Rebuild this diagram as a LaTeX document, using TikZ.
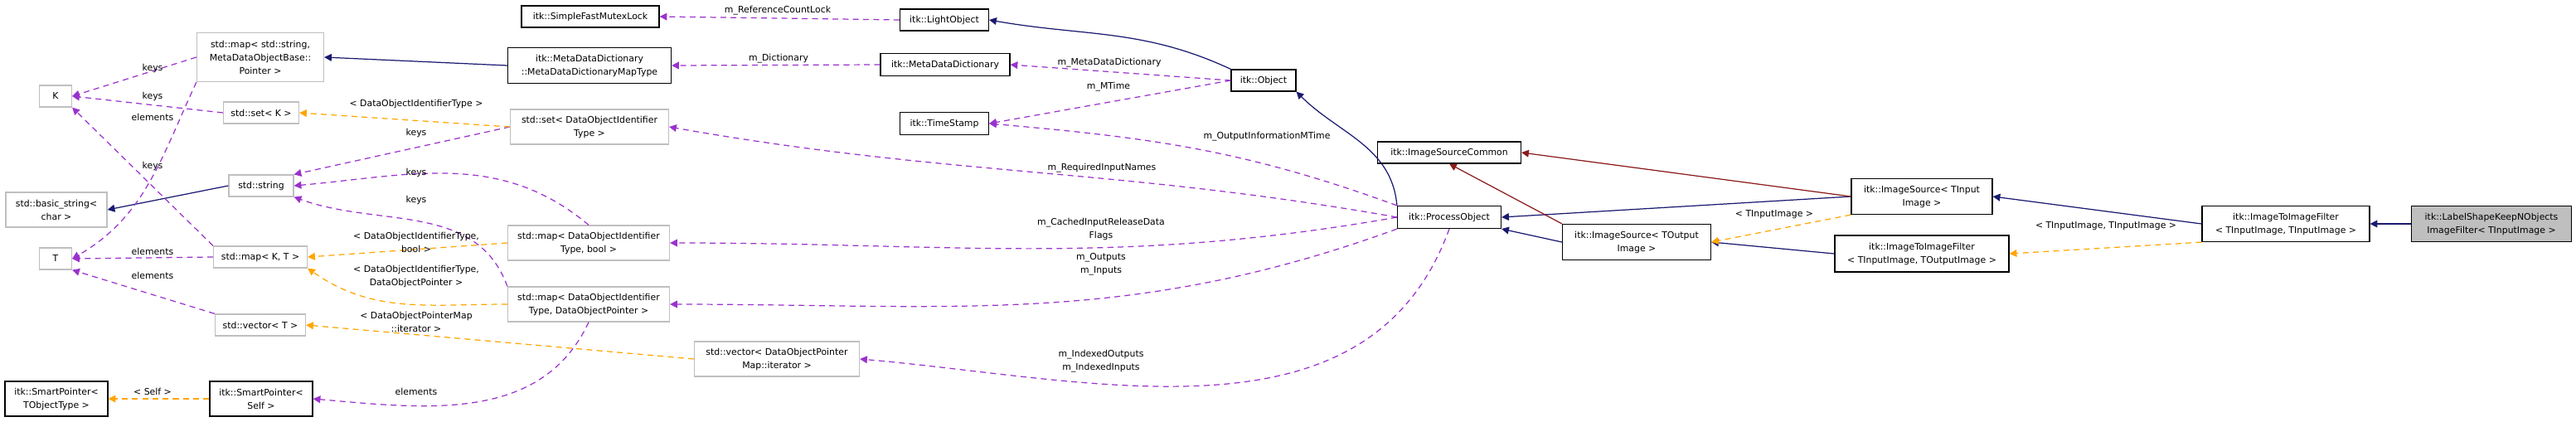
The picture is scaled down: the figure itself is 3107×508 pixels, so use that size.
\documentclass[tikz,border=0pt]{standalone}
\usepackage{fontspec}
\setmainfont{DejaVu Sans}
\usetikzlibrary{arrows.meta}

\definecolor{navyedge}{RGB}{25,25,112}
\definecolor{rededge}{RGB}{139,26,26}
\definecolor{purpleedge}{RGB}{154,50,205}
\definecolor{orangeedge}{RGB}{255,165,0}
\definecolor{stdgray}{RGB}{191,191,191}

\tikzset{
    cls/.style={draw=black, line width=0.7pt, fill=white, align=center, inner sep=1pt},
    stdcls/.style={draw=stdgray, line width=0.7pt, fill=white, align=center, inner sep=1pt},
    focus/.style={cls, fill=stdgray},
    inherit/.style={navyedge, line width=0.7pt, -{Triangle[length=5pt,width=5pt]}},
    protinherit/.style={rededge, line width=0.7pt, -{Triangle[length=5pt,width=5pt]}},
    usage/.style={purpleedge, line width=0.7pt, dash pattern=on 4pt off 3pt, -{Triangle[length=5pt,width=5pt]}},
    templ/.style={orangeedge, line width=0.7pt, dash pattern=on 4pt off 3pt, -{Triangle[length=5pt,width=5pt]}},
    lbl/.style={align=center, inner sep=0pt}
}

\begin{document}
\begin{tikzpicture}[x=0.02cm, y=-0.02cm, font=\fontsize{6.2}{9.1}\selectfont]

% Frame
\useasboundingbox (0,0) rectangle (3107,508);

% Standard library types (left)
\node[stdcls, minimum width=0.78cm, minimum height=0.52cm] (k) at (67,116) {K};
\node[stdcls, minimum width=0.78cm, minimum height=0.52cm] (t) at (67,312) {T};
\node[stdcls, minimum width=2.44cm, minimum height=0.84cm] (basicstr) at (68,253) {std::basic\_string<\\char >};
\node[stdcls, minimum width=3.06cm, minimum height=1.18cm] (mapmeta) at (314,69) {std::map< std::string,\\MetaDataObjectBase::\\Pointer >};
\node[stdcls, minimum width=1.82cm, minimum height=0.52cm] (setk) at (315,136) {std::set< K >};
\node[stdcls, minimum width=1.56cm, minimum height=0.52cm] (stdstr) at (315,224) {std::string};
\node[stdcls, minimum width=2.26cm, minimum height=0.52cm] (mapkt) at (314,310) {std::map< K, T >};
\node[stdcls, minimum width=2.18cm, minimum height=0.52cm] (vect) at (314,392) {std::vector< T >};

% Smart pointers
\node[cls, minimum width=2.48cm, minimum height=0.84cm] (spobj) at (68,481) {itk::SmartPointer<\\TObjectType >};
\node[cls, minimum width=2.48cm, minimum height=0.84cm] (spself) at (315,481) {itk::SmartPointer<\\Self >};

% Middle column
\node[cls, minimum width=3.32cm, minimum height=0.52cm] (mutex) at (712,20) {itk::SimpleFastMutexLock};
\node[cls, minimum width=3.94cm, minimum height=0.86cm] (maptype) at (711,79) {itk::MetaDataDictionary\\::MetaDataDictionaryMapType};
\node[stdcls, minimum width=3.82cm, minimum height=0.84cm] (setdoit) at (711,153) {std::set< DataObjectIdentifier\\Type >};
\node[stdcls, minimum width=3.90cm, minimum height=0.84cm] (mapbool) at (710,293) {std::map< DataObjectIdentifier\\Type, bool >};
\node[stdcls, minimum width=3.90cm, minimum height=0.84cm] (mapdop) at (710,367) {std::map< DataObjectIdentifier\\Type, DataObjectPointer >};
\node[stdcls, minimum width=3.98cm, minimum height=0.84cm] (vecit) at (937,433) {std::vector< DataObjectPointer\\Map::iterator >};

% ITK core objects
\node[cls, minimum width=2.14cm, minimum height=0.52cm] (light) at (1139,24) {itk::LightObject};
\node[cls, minimum width=3.12cm, minimum height=0.54cm] (dict) at (1140,78) {itk::MetaDataDictionary};
\node[cls, minimum width=2.14cm, minimum height=0.54cm] (stamp) at (1139,149) {itk::TimeStamp};
\node[cls, minimum width=1.56cm, minimum height=0.52cm] (object) at (1524,97) {itk::Object};
\node[cls, minimum width=3.46cm, minimum height=0.52cm] (common) at (1748,184) {itk::ImageSourceCommon};
\node[cls, minimum width=2.50cm, minimum height=0.54cm] (process) at (1748,262) {itk::ProcessObject};

% Filters
\node[cls, minimum width=3.58cm, minimum height=0.86cm] (srcout) at (1974,292) {itk::ImageSource< TOutput\\Image >};
\node[cls, minimum width=3.40cm, minimum height=0.86cm] (srcin) at (2318,237) {itk::ImageSource< TInput\\Image >};
\node[cls, minimum width=4.20cm, minimum height=0.88cm] (filtout) at (2318,306) {itk::ImageToImageFilter\\< TInputImage, TOutputImage >};
\node[cls, minimum width=4.04cm, minimum height=0.86cm] (filtin) at (2757,270) {itk::ImageToImageFilter\\< TInputImage, TInputImage >};
\node[focus, minimum width=3.86cm, minimum height=0.86cm] (keepn) at (3005,270) {itk::LabelShapeKeepNObjects\\ImageFilter< TInputImage >};

% Inheritance
\draw[inherit] (maptype.west) -- (mapmeta.east);
\draw[inherit] (stdstr.west) -- (basicstr.east);
\draw[inherit] (object.north west) to[out=155,in=-10] (light.east);
\draw[inherit] (process.north west) to[out=95,in=-45] (object.south east);
\draw[inherit] (srcin.west) -- (process.east);
\draw[inherit] (srcout.west) -- (process.south east);
\draw[inherit] (filtout.west) -- (srcout.east);
\draw[inherit] (filtin.west) -- (srcin.east);
\draw[inherit] (keepn.west) -- (filtin.east);
\draw[protinherit] (srcin.west) -- (common.east);
\draw[protinherit] (srcout.north west) -- (common.south);

% Members of itk objects
\draw[usage] (light.west) -- (mutex.east);
\draw[usage] (dict.west) -- (maptype.east);
\draw[usage] (object.west) -- (dict.east);
\draw[usage] (object.west) -- (stamp.east);
\draw[usage] (process.north west) to[out=160,in=-5] (stamp.east);
\draw[usage] (process.west) to[out=170,in=-10] (setdoit.east);
\draw[usage] (process.west) to[out=190,in=0] (mapbool.east);
\draw[usage] (process.south west) to[out=200,in=0] (mapdop.east);
\draw[usage] (process.south) to[out=-110,in=-5] (vecit.east);

\node[lbl] (l1) at (938,13) {m\_ReferenceCountLock};
\node[lbl] (l2) at (939,71) {m\_Dictionary};
\node[lbl] (l3) at (1338,76) {m\_MetaDataDictionary};
\node[lbl] (l4) at (1337,105) {m\_MTime};
\node[lbl] (l5) at (1528,165) {m\_OutputInformationMTime};
\node[lbl] (l6) at (1329,203) {m\_RequiredInputNames};
\node[lbl] (l7) at (1328,276) {m\_CachedInputReleaseData\\Flags};
\node[lbl] (l8) at (1328,319) {m\_Outputs\\m\_Inputs};
\node[lbl] (l9) at (1328,436) {m\_IndexedOutputs\\m\_IndexedInputs};

% Keys and elements of containers
\draw[usage] (mapmeta.west) -- (k.east);
\draw[usage] (setk.west) -- (k.east);
\draw[usage] (mapkt.north west) -- (k.south east);
\draw[usage] (mapmeta.south west) to[out=-115,in=30] (t.east);
\draw[usage] (mapkt.west) -- (t.east);
\draw[usage] (vect.north west) -- (t.south east);
\draw[usage] (setdoit.west) -- (stdstr.north east);
\draw[usage] (mapbool.north) to[out=140,in=5] (stdstr.east);
\draw[usage] (mapdop.north west) to[out=110,in=-20] (stdstr.south east);
\draw[usage] (mapdop.south) to[out=-115,in=-5] (spself.east);

\node[lbl] (k1) at (184,82) {keys};
\node[lbl] (k2) at (184,116) {keys};
\node[lbl] (e1) at (184,141) {elements};
\node[lbl] (k3) at (184,200) {keys};
\node[lbl] (e2) at (184,303) {elements};
\node[lbl] (e3) at (184,332) {elements};
\node[lbl] (k4) at (502,160) {keys};
\node[lbl] (k5) at (502,208) {keys};
\node[lbl] (k6) at (502,241) {keys};
\node[lbl] (e4) at (502,472) {elements};

% Template instantiations
\draw[templ] (setdoit.west) -- (setk.east);
\draw[templ] (mapbool.west) -- (mapkt.east);
\draw[templ] (mapdop.west) to[out=180,in=-35] (mapkt.south east);
\draw[templ] (vecit.west) -- (vect.east);
\draw[templ] (spself.west) -- (spobj.east);
\draw[templ] (srcin.south west) -- (srcout.east);
\draw[templ] (filtin.south west) -- (filtout.east);

\node[lbl] (t1) at (502,125) {< DataObjectIdentifierType >};
\node[lbl] (t2) at (502,292) {< DataObjectIdentifierType,\\bool >};
\node[lbl] (t3) at (502,333) {< DataObjectIdentifierType,\\DataObjectPointer >};
\node[lbl] (t4) at (502,388) {< DataObjectPointerMap\\::iterator >};
\node[lbl] (t5) at (184,472) {< Self >};
\node[lbl] (t6) at (2140,259) {< TInputImage >};
\node[lbl] (t7) at (2540,273) {< TInputImage, TInputImage >};

\end{tikzpicture}
\end{document}
